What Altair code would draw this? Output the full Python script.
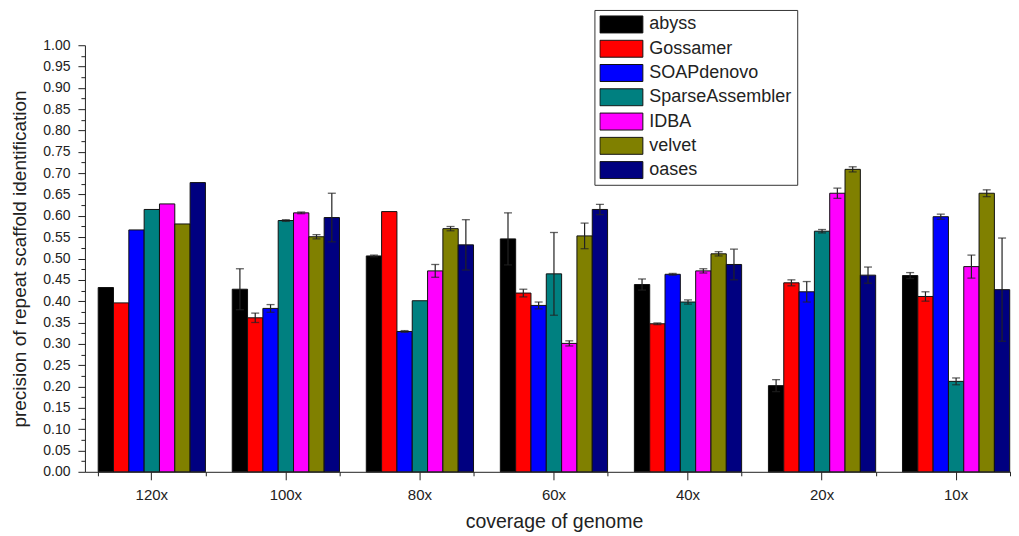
import altair as alt
import pandas as pd

coverages = ["120x", "100x", "80x", "60x", "40x", "20x", "10x"]
assemblers = ["abyss", "Gossamer", "SOAPdenovo", "SparseAssembler", "IDBA", "velvet", "oases"]
colors = ["#000000", "#FF0000", "#0000FF", "#008080", "#FF00FF", "#808000", "#000080"]

abyss = [0.432, 0.428, 0.506, 0.546, 0.439, 0.202, 0.460]
gossamer = [0.396, 0.361, 0.610, 0.419, 0.347, 0.443, 0.411]
soapdenovo = [0.567, 0.383, 0.329, 0.390, 0.463, 0.422, 0.598]
sparseassembler = [0.615, 0.589, 0.401, 0.464, 0.398, 0.564, 0.212]
idba = [0.628, 0.607, 0.471, 0.301, 0.471, 0.653, 0.481]
velvet = [0.581, 0.551, 0.570, 0.553, 0.511, 0.709, 0.653]
oases = [0.678, 0.596, 0.532, 0.615, 0.486, 0.461, 0.427]

abyss_err = [0.0, 0.048, 0.002, 0.061, 0.013, 0.014, 0.007]
gossamer_err = [0.0, 0.011, 0.0, 0.009, 0.002, 0.007, 0.011]
soapdenovo_err = [0.0, 0.009, 0.002, 0.008, 0.002, 0.024, 0.006]
sparseassembler_err = [0.0, 0.002, 0.0, 0.097, 0.005, 0.004, 0.008]
idba_err = [0.0, 0.002, 0.015, 0.006, 0.005, 0.012, 0.027]
velvet_err = [0.0, 0.005, 0.005, 0.030, 0.005, 0.006, 0.008]
oases_err = [0.0, 0.057, 0.059, 0.012, 0.036, 0.019, 0.121]

y_major = [round(i * 0.05, 2) for i in range(21)]
y_minor = [round(0.025 + i * 0.05, 3) for i in range(20)]

value_lists = [abyss, gossamer, soapdenovo, sparseassembler, idba, velvet, oases]
err_lists = [abyss_err, gossamer_err, soapdenovo_err, sparseassembler_err, idba_err, velvet_err, oases_err]

rows = []
for a, vals, errs in zip(assemblers, value_lists, err_lists):
    for c, v, e in zip(coverages, vals, errs):
        rows.append({"coverage": c, "assembler": a, "value": v, "err": e, "lo": v - e, "hi": v + e})
df = pd.DataFrame(rows)
err_df = df[df["err"] > 0]

FONT = "Liberation Sans, Arial, sans-serif"
INK = "#222222"

x_scale = alt.Scale(domain=coverages, paddingInner=0.2, paddingOuter=0.099)
xo_scale = alt.Scale(domain=assemblers, paddingInner=0, paddingOuter=0)
y_scale = alt.Scale(domain=[0, 1], nice=False, zero=True)

x_main_axis = alt.Axis(
    title="coverage of genome", titleFont=FONT, titleFontSize=19.5, titleFontWeight="normal",
    titleColor=INK, titleBaseline="alphabetic", titleY=56,
    labelAngle=0, labelFont=FONT, labelFontSize=15, labelColor=INK, labelPadding=8,
    tickSize=8, tickColor=INK, domainColor=INK, grid=False, orient="bottom",
)
y_main_axis = alt.Axis(
    values=y_major, format=".2f",
    title="precision of repeat scaffold identification", titleFont=FONT, titleFontSize=19,
    titleFontWeight="normal", titleColor=INK, titleAngle=270, titleBaseline="alphabetic",
    titleAlign="center", titleX=-59, titleY=213.5,
    labelFont=FONT, labelFontSize=14, labelColor=INK, labelPadding=8,
    tickSize=7, tickColor=INK, domainColor=INK, grid=False, orient="left",
)
x_minor_axis = alt.Axis(
    orient="bottom", tickBand="extent", tickOffset=-13.4, labels=False, domain=False,
    title=None, tickSize=4, tickColor=INK, grid=False,
)
y_minor_axis = alt.Axis(
    orient="left", values=y_minor, labels=False, domain=False, title=None,
    tickSize=4, tickColor=INK, grid=False,
)

legend = alt.Legend(
    title=None, orient="none", legendX=510, legendY=-35.3, direction="vertical",
    symbolType="M-1,-0.395L1,-0.395L1,0.395L-1,0.395Z", symbolSize=1849,
    symbolStrokeColor="#111111", symbolStrokeWidth=1, symbolOpacity=1,
    labelFont=FONT, labelFontSize=18, labelColor=INK, labelOffset=6, labelLimit=300,
    padding=5, rowPadding=5.3, clipHeight=19,
    strokeColor="#333333", fillColor="white",
)

bars = alt.Chart(df).mark_bar(stroke="#111111", strokeWidth=1, opacity=1).encode(
    x=alt.X("coverage:N", sort=coverages, scale=x_scale, axis=x_main_axis),
    xOffset=alt.XOffset("assembler:N", sort=assemblers, scale=xo_scale),
    y=alt.Y("value:Q", scale=y_scale, axis=y_main_axis),
    color=alt.Color("assembler:N", sort=assemblers,
                    scale=alt.Scale(domain=assemblers, range=colors), legend=legend),
)

rules = alt.Chart(err_df).mark_rule(color=INK, strokeWidth=1.2).encode(
    x=alt.X("coverage:N", sort=coverages, scale=x_scale, axis=x_minor_axis),
    xOffset=alt.XOffset("assembler:N", sort=assemblers, scale=xo_scale),
    y=alt.Y("lo:Q", scale=y_scale, axis=y_minor_axis),
    y2="hi:Q",
)

caps_lo = alt.Chart(err_df).mark_tick(color=INK, size=8, thickness=1.3).encode(
    x=alt.X("coverage:N", sort=coverages, scale=x_scale, axis=None),
    xOffset=alt.XOffset("assembler:N", sort=assemblers, scale=xo_scale),
    y=alt.Y("lo:Q", scale=y_scale, axis=None),
)
caps_hi = alt.Chart(err_df).mark_tick(color=INK, size=8, thickness=1.3).encode(
    x=alt.X("coverage:N", sort=coverages, scale=x_scale, axis=None),
    xOffset=alt.XOffset("assembler:N", sort=assemblers, scale=xo_scale),
    y=alt.Y("hi:Q", scale=y_scale, axis=None),
)

chart = (
    alt.layer(bars, rules, caps_lo, caps_hi)
    .resolve_axis(x="independent", y="independent")
    .properties(width=939, height=427,
                padding={"left": 2, "top": 1, "right": -12, "bottom": 0},
                background="white")
    .configure_view(stroke=None)
)

chart.save("out.html", embed_options={"renderer": "svg", "actions": False})
